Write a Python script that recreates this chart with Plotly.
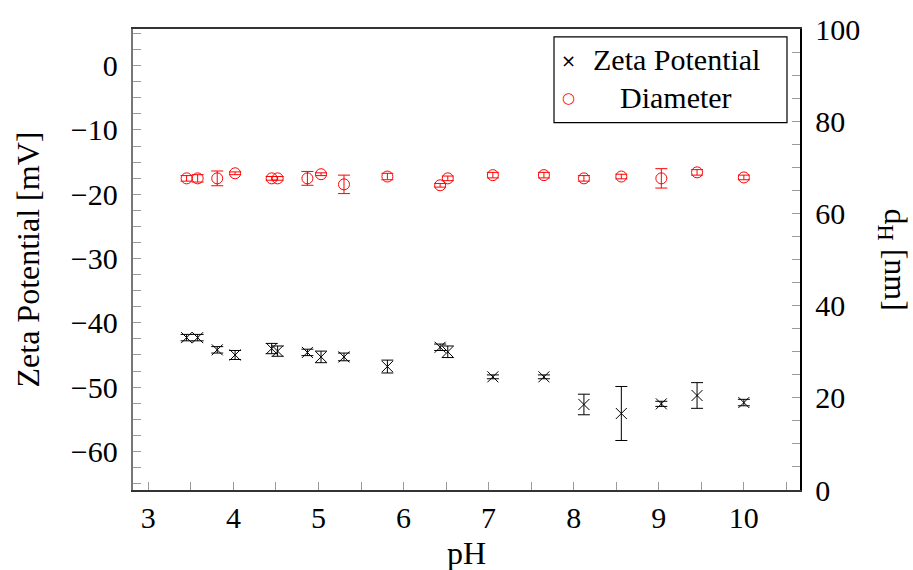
import plotly.graph_objects as go

ph = [3.45, 3.58, 3.81, 4.02, 4.45, 4.52, 4.87, 5.03, 5.30, 5.81, 6.43, 6.52,
      7.05, 7.65, 8.12, 8.56, 9.03, 9.45, 10.0]
zeta = [-42.3, -42.3, -44.2, -45.0, -44.0, -44.4, -44.6, -45.3, -45.3, -46.8,
        -43.8, -44.5, -48.4, -48.4, -52.7, -54.1, -52.6, -51.3, -52.4]
zeta_err = [0.5, 0.5, 0.5, 0.7, 0.8, 0.8, 0.5, 0.9, 0.6, 1.0, 0.5, 0.9,
            0.3, 0.3, 1.6, 4.2, 0.4, 2.0, 0.5]
diam = [67.6, 67.6, 67.6, 68.7, 67.6, 67.6, 67.6, 68.5, 66.3, 68.0, 66.1, 67.6,
        68.3, 68.3, 67.6, 68.0, 67.6, 68.9, 67.8]
diam_err = [0.6, 0.8, 1.6, 0.3, 0.4, 0.4, 1.5, 0.3, 2.0, 0.7, 0.4, 0.5,
            0.6, 0.6, 0.6, 0.5, 2.1, 0.6, 0.5]

FONT = "Liberation Serif"
FS = 30
TFS = 32

fig = go.Figure()
fig.add_trace(go.Scatter(
    x=ph, y=zeta, mode="markers", name="Zeta Potential",
    marker=dict(symbol="x-thin-open", size=11, color="black",
                line=dict(color="black", width=1)),
    error_y=dict(type="data", array=zeta_err, color="black", thickness=1, width=6),
    yaxis="y"))
fig.add_trace(go.Scatter(
    x=ph, y=diam, mode="markers", name="Diameter",
    marker=dict(symbol="circle-open", size=11, color="red",
                line=dict(color="red", width=1)),
    error_y=dict(type="data", array=diam_err, color="red", thickness=1, width=6),
    yaxis="y2"))

tickfont = dict(family=FONT, size=FS, color="black")
titlefont = dict(family=FONT, size=TFS, color="black")
fig.update_layout(
    width=913, height=570,
    margin=dict(l=133, r=113, t=27, b=80),
    paper_bgcolor="white", plot_bgcolor="white",
    showlegend=False,
    font=dict(family=FONT, size=FS, color="black"),
    xaxis=dict(range=[2.82, 10.66], dtick=1, tick0=0, ticks="inside", ticklen=8,
               tickcolor="#9a9a9a", showgrid=False, zeroline=False,
               showline=True, linecolor="#333333", linewidth=1.5, mirror=True,
               tickfont=tickfont,
               minor=dict(dtick=0.5, ticks="inside", ticklen=8, tickcolor="#9a9a9a")),
    yaxis=dict(range=[-66, 5.7], dtick=10, tick0=0, ticks="inside", ticklen=8,
               tickcolor="#9a9a9a", showgrid=False, zeroline=False,
               showline=True, linecolor="#777777", linewidth=1.5,
               tickfont=tickfont, ticksuffix=" ",
               minor=dict(dtick=2.5, ticks="inside", ticklen=8, tickcolor="#9a9a9a")),
    yaxis2=dict(range=[0, 100], dtick=20, tick0=0, ticks="inside", ticklen=8,
                tickcolor="#9a9a9a", showgrid=False, zeroline=False,
                overlaying="y", side="right",
                showline=True, linecolor="black", linewidth=1.5,
                tickfont=tickfont, tickprefix=" ",
                minor=dict(dtick=5, ticks="inside", ticklen=8, tickcolor="#9a9a9a")),
)

# axis titles
fig.add_annotation(text="Zeta Potential [mV]", xref="paper", yref="paper",
                   x=0, xshift=-106, y=0.5, textangle=-90, showarrow=False,
                   xanchor="center", yanchor="middle", font=titlefont)
fig.add_annotation(text="pH", xref="paper", yref="paper",
                   x=0.5, y=0, yshift=-63, showarrow=False,
                   xanchor="center", yanchor="middle", font=titlefont)
fig.add_annotation(text="d<sub>H</sub> [nm]", xref="paper", yref="paper",
                   x=1.0, xshift=93, y=0.5, textangle=90, showarrow=False,
                   xanchor="center", yanchor="middle", font=titlefont)

# legend box (pgfplots style)
def px(xp):
    return (xp - 133) / 667

def py(yp):
    return 1 - (yp - 27) / 463

fig.add_shape(type="rect", xref="paper", yref="paper", x0=px(554), x1=px(787),
              y0=py(121), y1=py(35),
              line=dict(color="black", width=1.2), fillcolor="white", layer="above")
fig.add_annotation(text="×", xref="paper", yref="paper", x=px(568), y=py(59),
                   showarrow=False, xanchor="center", yanchor="middle",
                   font=dict(family="DejaVu Sans", size=18, color="black"))
fig.add_annotation(text="Zeta Potential", xref="paper", yref="paper",
                   x=px(676), y=py(58), showarrow=False,
                   xanchor="center", yanchor="middle", font=tickfont)
fig.add_annotation(text="○", xref="paper", yref="paper", x=px(568), y=py(96),
                   showarrow=False, xanchor="center", yanchor="middle",
                   font=dict(family="DejaVu Sans", size=15, color="red"))
fig.add_annotation(text="Diameter", xref="paper", yref="paper",
                   x=px(676), y=py(96), showarrow=False,
                   xanchor="center", yanchor="middle", font=tickfont)

fig.write_html("out.html")
